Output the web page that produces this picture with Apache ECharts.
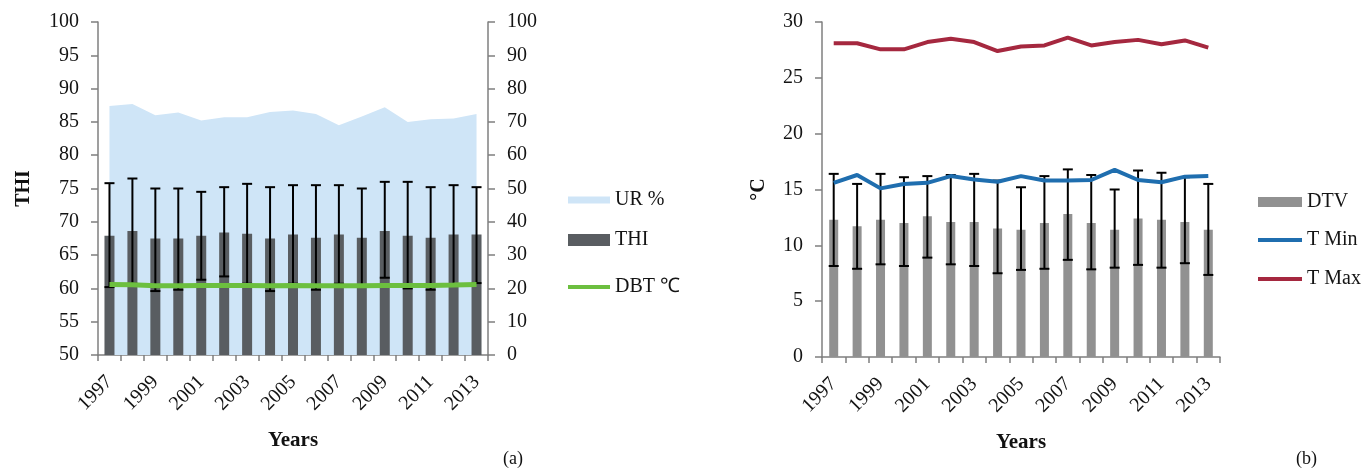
<!DOCTYPE html>
<html>
<head>
<meta charset="utf-8">
<script src="https://cdn.jsdelivr.net/npm/echarts@6/dist/echarts.min.js"></script>
<style>html,body{margin:0;padding:0;background:#fff}#c{width:1368px;height:471px}</style>
</head>
<body>
<div id="c"></div>
<script>
const years = ['1997','1998','1999','2000','2001','2002','2003','2004','2005','2006','2007','2008','2009','2010','2011','2012','2013'];
// Panel (a)
const thi      = [67.9,68.6,67.5,67.5,67.9,68.4,68.2,67.5,68.1,67.6,68.1,67.6,68.6,67.9,67.6,68.1,68.1];
const thiUpper = [75.8,76.5,75.0,75.0,74.5,75.2,75.7,75.2,75.5,75.5,75.5,75.0,76.0,76.0,75.2,75.5,75.2];
const thiLower = [60.2,60.7,59.6,59.8,61.3,61.8,60.7,59.6,60.7,59.8,60.7,60.3,61.6,60.0,59.8,60.6,60.8];
const ur       = [74.8,75.4,72.0,72.8,70.4,71.4,71.4,73.0,73.4,72.4,69.0,71.6,74.4,70.0,70.8,71.0,72.4];
const dbt      = [21.2,21.1,20.8,20.8,20.9,20.9,20.9,20.8,20.9,20.8,20.8,20.8,20.9,20.9,20.9,21.0,21.2];
// Panel (b)
const dtv      = [12.3,11.7,12.3,12.0,12.6,12.1,12.1,11.5,11.4,12.0,12.8,12.0,11.4,12.4,12.3,12.1,11.4];
const dtvUpper = [16.4,15.5,16.4,16.1,16.2,16.3,16.4,15.8,15.2,16.2,16.8,16.3,15.0,16.7,16.5,16.1,15.5];
const dtvLower = [8.15,7.9,8.3,8.15,8.9,8.3,8.15,7.5,7.8,7.9,8.7,7.85,8.0,8.25,8.0,8.4,7.35];
const tmin     = [15.6,16.3,15.1,15.5,15.6,16.2,15.9,15.7,16.2,15.8,15.8,15.85,16.75,15.85,15.65,16.15,16.2];
const tmax     = [28.1,28.1,27.55,27.55,28.2,28.5,28.2,27.4,27.8,27.9,28.6,27.9,28.2,28.4,28.0,28.35,27.7];

const FONT = '"Liberation Serif", "Times New Roman", serif';
const AX = '#7f7f7f';
const TXT = '#141414';

function errData(lo, hi){ return years.map((y,i)=>[i, lo[i], hi[i]]); }
function errRender(capW){
  return function(params, api){
    const x = api.value(0);
    const p1 = api.coord([x, api.value(1)]);
    const p2 = api.coord([x, api.value(2)]);
    const st = {stroke:'#000', lineWidth:2};
    return {type:'group', children:[
      {type:'line', shape:{x1:p1[0],y1:p1[1],x2:p2[0],y2:p2[1]}, style:st},
      {type:'line', shape:{x1:p1[0]-capW/2,y1:p1[1],x2:p1[0]+capW/2,y2:p1[1]}, style:st},
      {type:'line', shape:{x1:p2[0]-capW/2,y1:p2[1],x2:p2[0]+capW/2,y2:p2[1]}, style:st}
    ]};
  };
}

function xAx(gi){
  return {
    type:'category', gridIndex:gi, data:years, boundaryGap:true,
    axisLine:{lineStyle:{color:AX, width:1.5}},
    axisTick:{show:true, interval:0, length:6, lineStyle:{color:AX, width:1.5}},
    axisLabel:{interval:1, rotate:45, fontFamily:FONT, fontSize:20, color:TXT, margin:24},
    name:'Years', nameLocation:'middle', nameGap:75,
    nameTextStyle:{fontFamily:FONT, fontSize:21, fontWeight:'bold', color:'#111'}
  };
}
function yAx(gi, min, max, itv, pos, name, gap){
  return {
    type:'value', gridIndex:gi, min:min, max:max, interval:itv, position:pos,
    splitLine:{show:false},
    axisLine:{show:true, lineStyle:{color:AX, width:1.5}},
    axisTick:{show:true, length:7, lineStyle:{color:AX, width:1.5}},
    axisLabel:{fontFamily:FONT, fontSize:20, color:TXT, margin:19},
    name:name||'', nameLocation:'middle', nameGap:gap||64,
    nameTextStyle:{fontFamily:FONT, fontSize:20, fontWeight:'bold', color:'#111'}
  };
}
const legText = {fontFamily:FONT, fontSize:20, color:TXT};
function leg(name, left, top, w, h, color){
  return {data:[{name:name, icon:'rect', itemStyle:{color:color}}], left:left, top:top,
    itemWidth:w, itemHeight:h, itemGap:0, textStyle:legText, selectedMode:false, padding:0};
}

const chart = echarts.init(document.getElementById('c'));
chart.setOption({
  animation:false,
  grid:[
    {left:98, right:880, top:22, bottom:116},
    {left:822, right:148, top:22, bottom:114}
  ],
  xAxis:[xAx(0), xAx(1)],
  yAxis:[
    yAx(0, 50, 100, 5, 'left', 'THI', 64),
    yAx(0, 0, 100, 10, 'right'),
    yAx(1, 0, 30, 5, 'left', '°C', 53)
  ],
  legend:[
    leg('UR %', 568, 190, 42, 7, '#cfe5f7'),
    leg('THI', 568, 230, 42, 12, '#595d61'),
    leg('DBT ℃', 568, 277, 42, 4, '#6cbf3f'),
    leg('DTV', 1258, 192, 44, 10, '#919191'),
    leg('T Min', 1258, 230, 44, 4, '#1f6eaf'),
    leg('T Max', 1258, 269, 44, 4, '#a5283f')
  ],
  title:[
    {text:'(a)', left:503, top:450, padding:0, textStyle:{fontFamily:FONT, fontSize:18, fontWeight:'normal', color:'#111'}},
    {text:'(b)', left:1296, top:450, padding:0, textStyle:{fontFamily:FONT, fontSize:18, fontWeight:'normal', color:'#111'}}
  ],
  series:[
    {name:'UR %', type:'line', xAxisIndex:0, yAxisIndex:1, data:ur, showSymbol:false, symbol:'none',
     lineStyle:{width:0}, itemStyle:{color:'#cfe5f7'}, areaStyle:{color:'#cfe5f7', opacity:1}, z:1},
    {name:'THI', type:'bar', xAxisIndex:0, yAxisIndex:0, data:thi, barWidth:10,
     itemStyle:{color:'#595d61'}, z:2},
    {name:'THI err', type:'custom', xAxisIndex:0, yAxisIndex:0, data:errData(thiLower, thiUpper),
     renderItem:errRender(10), encode:{x:0, y:[1,2]}, z:3},
    {name:'DBT ℃', type:'line', xAxisIndex:0, yAxisIndex:1, data:dbt, showSymbol:false, symbol:'none',
     lineStyle:{width:5, color:'#6cbf3f'}, itemStyle:{color:'#6cbf3f'}, z:4},

    {name:'DTV', type:'bar', xAxisIndex:1, yAxisIndex:2, data:dtv, barWidth:9,
     itemStyle:{color:'#919191'}, z:2},
    {name:'DTV err', type:'custom', xAxisIndex:1, yAxisIndex:2, data:errData(dtvLower, dtvUpper),
     renderItem:errRender(10), encode:{x:0, y:[1,2]}, z:3},
    {name:'T Min', type:'line', xAxisIndex:1, yAxisIndex:2, data:tmin, showSymbol:false, symbol:'none',
     lineStyle:{width:4, color:'#1f6eaf'}, itemStyle:{color:'#1f6eaf'}, z:4},
    {name:'T Max', type:'line', xAxisIndex:1, yAxisIndex:2, data:tmax, showSymbol:false, symbol:'none',
     lineStyle:{width:4, color:'#a5283f'}, itemStyle:{color:'#a5283f'}, z:4}
  ]
});
</script>
</body>
</html>
